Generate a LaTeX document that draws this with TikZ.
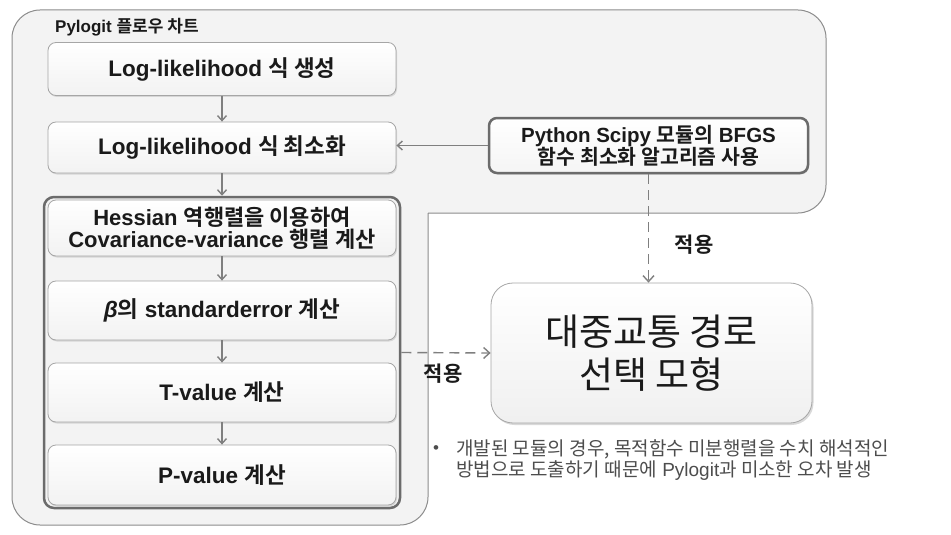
\documentclass[tikz,border=0pt]{standalone}
\usepackage{fontspec}
\setmainfont{Liberation Sans}
\newfontfamily\kr{Noto Sans CJK KR}[BoldFont={Noto Sans CJK KR Bold}]
\usetikzlibrary{arrows.meta,shadows}
\newcommand\K[1]{{\kr #1}}
\definecolor{outerfill}{HTML}{F3F3F3}
\definecolor{outerline}{HTML}{8C8C8C}
\definecolor{boxline}{HTML}{A6A6A6}
\definecolor{thickline}{HTML}{6B6B6B}
\definecolor{arr}{HTML}{7F7F7F}
\definecolor{txt}{HTML}{1A1A1A}
\definecolor{notec}{HTML}{4D4D4D}
\tikzset{
  stepbox/.style={draw=boxline, line width=0.8pt, rounded corners=8pt,
    top color=white, bottom color=gray!10, minimum width=348pt, inner sep=0pt,
    text=txt, font=\bfseries\fontsize{22.5}{26}\selectfont, align=center,
    drop shadow={opacity=0.25, shadow xshift=1pt, shadow yshift=-1.5pt}},
  groupbox/.style={draw=thickline, line width=2.5pt, rounded corners=10pt,
    fill=outerfill, inner sep=0pt},
  pybox/.style={draw=thickline, line width=2.5pt, rounded corners=8pt,
    top color=white, bottom color=gray!8, inner sep=0pt, text=txt,
    font=\bfseries\fontsize{20.5}{22}\selectfont, align=center,
    drop shadow={opacity=0.25, shadow xshift=1pt, shadow yshift=-1.5pt}},
  bigbox/.style={draw=boxline, line width=0.8pt, rounded corners=22pt,
    top color=white, bottom color=gray!12, inner sep=0pt, text=txt,
    font=\fontsize{37}{43}\selectfont, align=center,
    drop shadow={opacity=0.3, shadow xshift=1.5pt, shadow yshift=-2pt}},
  flow/.style={draw=arr, line width=1.4pt, -{Straight Barb[length=5pt,width=9pt]}},
  dflow/.style={draw=arr, line width=1.4pt, dash pattern=on 10pt off 6pt,
    -{Straight Barb[length=6pt,width=11pt]}},
  lbl/.style={text=txt, font=\bfseries\fontsize{21}{24}\selectfont, inner sep=0pt},
}
\begin{document}
\begin{tikzpicture}[x=1pt,y=-1pt]
\useasboundingbox (0,0) rectangle (951,535);
% outer L-shaped frame
\draw[draw=outerline, fill=outerfill, line width=1pt, rounded corners=28pt]
  (428,213) -- (428,525) -- (12,525) -- (12,10) -- (826,10) -- (826,213) -- (428,213);
\node[anchor=west, inner sep=0pt, text=txt, font=\bfseries\fontsize{17}{19}\selectfont]
  (title) at (55,27) {Pylogit \K{플로우 차트}};

\node[stepbox, minimum height=53pt] (b1) at (222,69) {Log-likelihood \K{식 생성}};
\node[stepbox, minimum height=51pt] (b2) at (222,147.5) {Log-likelihood \K{식 최소화}};
\node[groupbox, minimum width=356pt, minimum height=311pt] (grp) at (222,352.5) {};
\node[stepbox, minimum height=56pt, font=\bfseries\fontsize{22}{22}\selectfont] (b3) at (222,228)
  {Hessian \K{역행렬을 이용하여}\\Covariance-variance \K{행렬 계산}};
\node[stepbox, minimum height=59pt] (b4) at (222,310.5) {\textit{β}\K{의} standarderror \K{계산}};
\node[stepbox, minimum height=59pt] (b5) at (222,392.5) {T-value \K{계산}};
\node[stepbox, minimum height=60pt] (b6) at (222,475) {P-value \K{계산}};

\node[pybox, minimum width=319pt, minimum height=55pt] (py) at (648.5,145.5)
  {Python Scipy \K{모듈의} BFGS\\\K{함수 최소화 알고리즘 사용}};
\node[bigbox, minimum width=321pt, minimum height=140pt] (big) at (651.5,353)
  {\K{대중교통 경로}\\\K{선택 모형}};

\draw[flow] (b1.south) -- (b2.north);
\draw[flow] (b2.south) -- (grp.north);
\draw[flow] (b3.south) -- (b4.north);
\draw[flow] (b4.south) -- (b5.north);
\draw[flow] (b5.south) -- (b6.north);
\draw[flow] (py.west) -- (py.west -| b2.east);
\draw[dflow] (py.south) -- (py.south |- big.north);
\draw[dflow] (grp.east) -- (big.west);

\node[lbl] (ap1) at (694,245) {\K{적용}};
\node[lbl] (ap2) at (443,374) {\K{적용}};

\node[inner sep=0pt, text=notec, font=\fontsize{17}{20}\selectfont] (bul) at (436,450) {•};
\node[anchor=north west, inner sep=0pt, text=notec, align=left,
  font=\fontsize{19}{21}\selectfont] (note) at (456,439)
  {\K{개발된 모듈의 경우, 목적함수 미분행렬을 수치 해석적인}\\\K{방법으로 도출하기 때문에} Pylogit\K{과 미소한 오차 발생}};
\end{tikzpicture}
\end{document}
